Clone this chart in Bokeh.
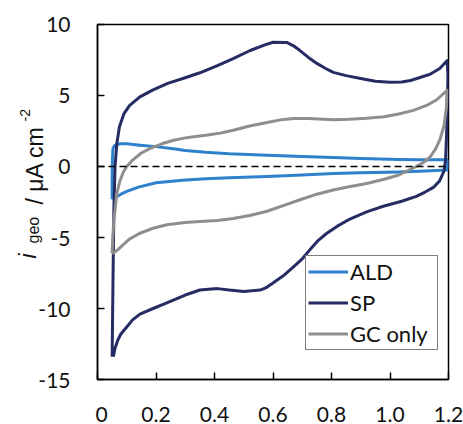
import math
from bokeh.plotting import figure
from bokeh.layouts import row
from bokeh.models import Range1d, Span, Legend, LegendItem, FixedTicker
from bokeh.core.properties import value
from bokeh.embed import file_html
from bokeh.resources import INLINE

# ---- data ----
x_ticks = [0, 0.2, 0.4, 0.6, 0.8, 1.0, 1.2]
x_tick_labels = ["0", "0.2", "0.4", "0.6", "0.8", "1.0", "1.2"]
y_ticks = [-15, -10, -5, 0, 5, 10]
y_tick_labels = ["-15", "-10", "-5", "0", "5", "10"]

ald_x = [0.05, 0.05, 0.051, 0.053, 0.06, 0.077, 0.1, 0.145, 0.2, 0.26, 0.3, 0.37, 0.45, 0.58, 0.7,
         0.806, 0.9, 1.03, 1.1, 1.195, 1.198, 1.195, 1.1, 1.03, 0.9, 0.806, 0.7, 0.58, 0.45, 0.37,
         0.29, 0.2, 0.14, 0.1, 0.08, 0.066, 0.055, 0.05]
ald_y = [-2.3, -1.0, 0.5, 1.3, 1.5, 1.6, 1.6, 1.5, 1.4, 1.25, 1.12, 1.0, 0.9, 0.8, 0.7,
         0.64, 0.57, 0.5, 0.48, 0.48, 0.1, -0.25, -0.33, -0.38, -0.44, -0.5, -0.6, -0.7, -0.8, -0.87,
         -0.97, -1.15, -1.45, -1.75, -1.95, -2.12, -2.25, -2.3]

sp_x = [0.05, 0.053, 0.056, 0.06, 0.066, 0.075, 0.09, 0.11, 0.145, 0.19, 0.24, 0.3, 0.35, 0.41, 0.464,
        0.52, 0.57, 0.6, 0.647, 0.67, 0.69, 0.72, 0.75, 0.78, 0.806, 0.85, 0.9, 0.95, 1.0, 1.04,
        1.07, 1.1, 1.137, 1.17, 1.195, 1.198, 1.196, 1.193, 1.19, 1.185, 1.17, 1.15, 1.12, 1.09,
        1.04, 0.977, 0.92, 0.863, 0.82, 0.784, 0.755, 0.726, 0.7, 0.67, 0.635, 0.6, 0.575, 0.556,
        0.5, 0.45, 0.41, 0.35, 0.3, 0.237, 0.19, 0.145, 0.12, 0.1, 0.08, 0.07, 0.06, 0.054]
sp_y = [-13.4, -8.0, -3.0, 0.0, 1.6, 2.8, 3.7, 4.3, 4.9, 5.4, 5.85, 6.25, 6.6, 7.1, 7.6,
        8.15, 8.55, 8.75, 8.74, 8.5, 8.2, 7.7, 7.26, 6.9, 6.63, 6.4, 6.2, 6.0, 5.93, 5.95,
        6.06, 6.25, 6.5, 6.9, 7.45, 6.5, 4.0, 2.0, 0.5, -0.3, -1.0, -1.45, -1.8, -2.1,
        -2.45, -2.8, -3.2, -3.7, -4.2, -4.7, -5.2, -5.87, -6.5, -7.07, -7.7, -8.2, -8.55, -8.7,
        -8.8, -8.7, -8.6, -8.7, -9.05, -9.6, -10.0, -10.4, -10.8, -11.3, -11.8, -12.2, -12.8, -13.4]

gc_x = [0.05, 0.052, 0.056, 0.066, 0.077, 0.088, 0.1, 0.12, 0.15, 0.18, 0.22, 0.26, 0.31, 0.37, 0.42,
        0.464, 0.52, 0.58, 0.63, 0.67, 0.72, 0.806, 0.86, 0.92, 0.98, 1.03, 1.08, 1.125, 1.16, 1.195,
        1.193, 1.185, 1.17, 1.155, 1.137, 1.115, 1.09, 1.06, 1.03, 0.98, 0.92, 0.86, 0.806, 0.75,
        0.69, 0.635, 0.58, 0.52, 0.464, 0.41, 0.35, 0.3, 0.237, 0.19, 0.145, 0.11, 0.088, 0.07,
        0.055, 0.05]
gc_y = [-6.1, -5.0, -3.8, -1.9, -1.0, -0.4, 0.0, 0.45, 0.95, 1.28, 1.6, 1.85, 2.05, 2.2, 2.35,
        2.55, 2.85, 3.1, 3.3, 3.38, 3.38, 3.3, 3.33, 3.4, 3.5, 3.7, 3.95, 4.3, 4.7, 5.36,
        4.2, 2.9, 1.85, 1.2, 0.67, 0.3, 0.0, -0.3, -0.6, -0.9, -1.2, -1.42, -1.65, -1.95,
        -2.36, -2.75, -3.15, -3.45, -3.66, -3.8, -3.88, -3.95, -4.1, -4.35, -4.7, -5.1, -5.5, -5.85,
        -6.1, -6.1]

series_names = ["ALD", "SP", "GC only"]
series_colors = ["#2F80CC", "#252C63", "#8E8E8E"]

TICK_FONT = "Lato"
LBL_FONT = "Liberation Sans"
W, H = 463, 424
TOP, BOTTOM, RIGHT = 24, 44, 15
LEFT_W = 95          # strip holding y tick labels and y title
FRAME_LEFT = 97
Y0, Y1 = -15, 10

# ---- main plot ----
p = figure(width=W - LEFT_W, height=H, output_backend="svg", toolbar_location=None,
           x_range=Range1d(0, 1.2), y_range=Range1d(Y0, Y1),
           min_border_left=FRAME_LEFT - LEFT_W, min_border_right=RIGHT,
           min_border_top=TOP, min_border_bottom=BOTTOM)
p.frame_align = False
p.background_fill_color = "white"
p.border_fill_color = "white"
p.xgrid.visible = False
p.ygrid.visible = False
p.outline_line_color = "black"
p.outline_line_width = 1.5

for ax in (p.xaxis[0], p.yaxis[0]):
    ax.axis_line_color = "black"
    ax.axis_line_width = 1.5
    ax.major_tick_in = 7
    ax.major_tick_out = 0
    ax.major_tick_line_color = "black"
    ax.major_tick_line_width = 1.5
    ax.minor_tick_line_color = None
    ax.major_label_text_font = TICK_FONT
    ax.major_label_text_font_size = "21px"
    ax.major_label_text_color = "#111111"

p.xaxis[0].ticker = FixedTicker(ticks=x_ticks)
p.xaxis[0].major_label_overrides = {t: l for t, l in zip(x_ticks, x_tick_labels)}
p.xaxis[0].major_label_standoff = 27
p.yaxis[0].ticker = FixedTicker(ticks=y_ticks)
p.yaxis[0].major_label_overrides = {t: "" for t in y_ticks}   # labels drawn in the strip
p.yaxis[0].major_label_standoff = 0

p.add_layout(Span(location=0, dimension="width", line_color="black", line_width=1.5, line_dash="7 4"))

renderers = []
for xs, ys, c in zip([ald_x, sp_x, gc_x], [ald_y, sp_y, gc_y], series_colors):
    r = p.line(xs, ys, line_color=c, line_width=3, line_join="round")
    renderers.append(r)

legend = Legend(items=[LegendItem(label=n, renderers=[r]) for n, r in zip(series_names, renderers)],
                location=(208, 29), glyph_width=40, glyph_height=27, label_height=27,
                label_width=85, spacing=4, padding=2, margin=0, label_standoff=2,
                label_text_font=TICK_FONT, label_text_font_size="22px", label_text_color="#111111",
                border_line_color="black", border_line_width=1.5, background_fill_color="white",
                background_fill_alpha=1.0)
p.add_layout(legend)

# ---- left strip: y tick labels + rotated y title (italic i, subscript geo, superscript -2) ----
units_per_px = (Y1 - Y0) / (H - TOP - BOTTOM)
lf = figure(width=LEFT_W, height=H, output_backend="svg", toolbar_location=None,
            x_range=Range1d(0, LEFT_W),
            y_range=Range1d(Y0 - BOTTOM * units_per_px, Y1 + TOP * units_per_px),
            min_border_left=0, min_border_right=0, min_border_top=0, min_border_bottom=0)
lf.frame_align = False
lf.extra_y_ranges = {"px": Range1d(0, H)}
lf.axis.visible = False
lf.xgrid.visible = False
lf.ygrid.visible = False
lf.outline_line_color = None
lf.background_fill_color = "white"
lf.border_fill_color = "white"

lf.text(x=[70] * len(y_ticks), y=y_ticks, text=y_tick_labels, text_align="right",
        text_baseline="middle", text_font=value(TICK_FONT), text_font_size="21px",
        text_color="#111111")

title_parts = ["i", "geo", "/ \u03bcA cm", "-2"]
part_x = [27, 33, 34, 24]                        # baseline position (px from left)
part_y = [H - 258, H - 243, H - 204, H - 121]    # start of each piece (px from bottom)
part_size = ["23px", "16px", "23px", "14px"]
part_style = ["italic", "normal", "normal", "normal"]
for t, x0, y0, fs, st in zip(title_parts, part_x, part_y, part_size, part_style):
    lf.text(x=[x0], y=[y0], y_range_name="px", text=[t], angle=math.pi / 2,
            text_font=value(LBL_FONT), text_font_size=fs, text_font_style=st,
            text_align="left", text_baseline="alphabetic", text_color="#111111")

layout = row(lf, p, spacing=0)
open("out.html", "w").write(file_html(layout, INLINE))
